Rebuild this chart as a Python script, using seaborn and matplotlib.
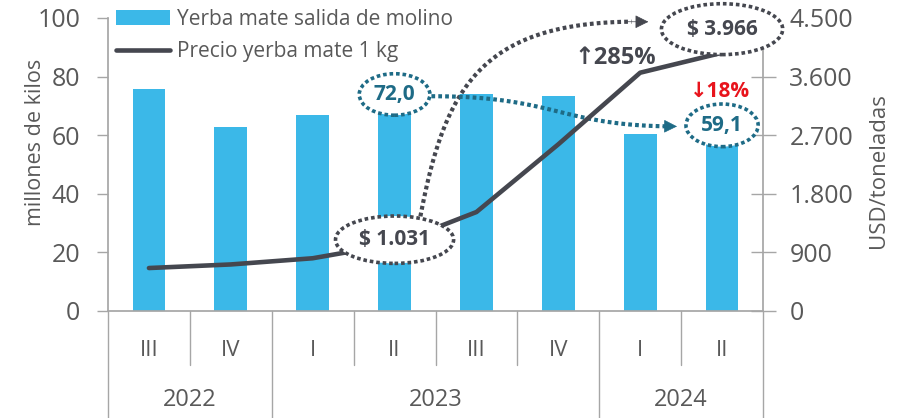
import matplotlib.pyplot as plt
import matplotlib.transforms as mtransforms
from matplotlib.bezier import BezierSegment
import numpy as np
import pandas as pd
import seaborn as sns

# datos
years = ['2022', '2022', '2023', '2023', '2023', '2023', '2024', '2024']
quarters = ['III', 'IV', 'I', 'II', 'III', 'IV', 'I', 'II']
molino = [75.8, 62.8, 66.8, 72.0, 74.0, 73.4, 60.4, 59.1]      # millones de kilos
precio = [660, 715, 810, 1031, 1520, 2560, 3660, 3966]        # USD/tonelada

df = pd.DataFrame({'year': years, 'quarter': quarters,
                   'molino': molino, 'precio': precio})
df['pos'] = np.arange(len(df))

sns.set_theme(style='white')
plt.rcParams['font.family'] = ['Open Sans', 'DejaVu Sans']

GRIS = '#595959'
LINEA = '#a6a6a6'
AZUL = '#3bb8e8'
OSCURO = '#45474f'
TEAL = '#1e6b86'
ROJO = '#e8141c'
PUNTOS = (0, (1, 0.8))

fig = plt.figure(figsize=(9.03, 4.18), dpi=100)
ax = fig.add_axes([108 / 903, 107 / 418, 655 / 903, 293 / 418])

sns.barplot(data=df, x='pos', y='molino', color=AZUL, saturation=1, width=0.4,
            linewidth=0, ax=ax, label='Yerba mate salida de molino')
ax2 = ax.twinx()
sns.lineplot(data=df, x='pos', y='precio', color=OSCURO, lw=3.3, ax=ax2,
             label='Precio yerba mate 1 kg')
for a in (ax, ax2):
    if a.get_legend() is not None:
        a.get_legend().remove()

# flechas punteadas (curvas de Bezier en coordenadas del eje izquierdo)
flechas = [
    ([(3.3, 30), (3.6, 75), (4.0, 100), (6.1, 98.7)], OSCURO),
    ([(3.45, 73.3), (5.0, 73.3), (5.0, 63), (6.45, 63)], TEAL),
]
t = np.linspace(0, 1, 120)
for ctrl, c in flechas:
    pts = np.asarray(BezierSegment(np.array(ctrl))(t))
    ax.plot(pts[:-4, 0], pts[:-4, 1], color=c, lw=3.0, ls=(0, (0.9, 0.75)),
            zorder=4)
    ax.annotate('', xy=tuple(pts[-1]), xytext=tuple(pts[-6]),
                arrowprops=dict(arrowstyle='-|>', mutation_scale=21, color=c,
                                lw=0.5, shrinkA=0, shrinkB=0), zorder=4)

ax.set_xlim(-0.5, len(df) - 0.5)
ax.set_ylim(0, 100)
ax2.set_ylim(0, 4500)
ax.set_xticks([])
ax.set_xlabel('')
ax.set_yticks(range(0, 101, 20))
ax2.set_yticks(range(0, 4501, 900))
ax2.set_yticklabels([f'{v:,}'.replace(',', '.') for v in range(0, 4501, 900)])

ax.tick_params(axis='y', left=True, direction='out', length=8, width=1,
               color=LINEA, labelsize=18, labelcolor=GRIS, pad=12)
ax2.tick_params(axis='y', right=True, direction='inout', length=18, width=1,
                color=LINEA, labelsize=18, labelcolor=GRIS, pad=10)

for s in ['top', 'right']:
    ax.spines[s].set_visible(False)
for s in ['top', 'left', 'bottom']:
    ax2.spines[s].set_visible(False)
ax.spines['left'].set_color(LINEA)
ax.spines['bottom'].set_color(LINEA)
ax2.spines['right'].set_color(LINEA)

ax.set_ylabel('millones de kilos', fontsize=15.5, color=GRIS)
ax.yaxis.set_label_coords(-0.095, 0.575)
ax2.set_ylabel('USD/toneladas', fontsize=16, color=GRIS)
ax2.yaxis.set_label_coords(1.16, 0.48)

# eje de categorias en dos niveles
trans = mtransforms.blended_transform_factory(ax.transData, ax.transAxes)
for i, q in enumerate(quarters):
    ax.text(i, -0.135, q, transform=trans, ha='center', va='center',
            fontsize=16, color=GRIS)
for i in range(len(quarters) + 1):
    largo = i == 0 or i == len(years) or years[i] != years[i - 1]
    ax.plot([i - 0.5, i - 0.5], [0, -0.37 if largo else -0.184], transform=trans,
            color=LINEA, lw=1, clip_on=False)
for y, g in df.groupby('year'):
    ax.text(g['pos'].mean(), -0.304, y, transform=trans, ha='center',
            va='center', fontsize=17, color=GRIS)

# leyenda
h1, l1 = ax.get_legend_handles_labels()
h2, l2 = ax2.get_legend_handles_labels()
ax2.legend(h1 + h2, l1 + l2, loc='upper left', bbox_to_anchor=(0.0, 1.06),
           frameon=False, fontsize=15, handlelength=2.6, handletextpad=0.3,
           labelspacing=0.55, labelcolor=GRIS, borderaxespad=0)


def burbuja(axis, x, y, texto, color, dy, pad):
    axis.annotate(texto, xy=(x, y), xytext=(0, dy), textcoords='offset points',
                  ha='center', va='center', fontsize=15, fontweight='bold',
                  color=color, annotation_clip=False, zorder=7,
                  bbox=dict(boxstyle=f'ellipse,pad={pad}', fc='white', ec=color,
                            ls=PUNTOS, lw=2.6))


i_a, i_b = 3, 7
burbuja(ax2, i_a, precio[i_a], f'$ {precio[i_a]:,}'.replace(',', '.'),
        OSCURO, 3, 0.3)
burbuja(ax2, i_b, precio[i_b], f'$ {precio[i_b]:,}'.replace(',', '.'),
        OSCURO, 17, 0.36)
burbuja(ax2, i_a, molino[i_a] * 45, f'{molino[i_a]:.1f}'.replace('.', ','),
        TEAL, 4, 0.2)
burbuja(ax2, i_b, molino[i_b] * 45, f'{molino[i_b]:.1f}'.replace('.', ','),
        TEAL, 9, 0.22)

sube = round((precio[i_b] / precio[i_a] - 1) * 100)
baja = round((1 - molino[i_b] / molino[i_a]) * 100)
ax2.text(5.7, 86.5 * 45, f'↑{sube}%', ha='center', va='center', fontsize=17,
         fontweight='bold', color=OSCURO, zorder=8)
ax2.text(6.98, 75.0 * 45, f'↓{baja}%', ha='center', va='center', fontsize=15,
         fontweight='bold', color=ROJO, zorder=8)

fig.savefig('out.png', dpi=100)
